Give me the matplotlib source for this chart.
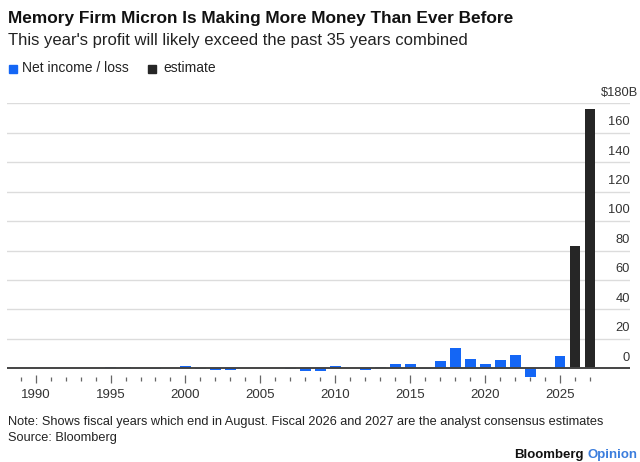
import matplotlib
matplotlib.use("Agg")
import matplotlib.pyplot as plt
from matplotlib.transforms import blended_transform_factory
from matplotlib.patches import Rectangle

plt.rcParams['font.family'] = ['Liberation Sans', 'DejaVu Sans']

years = list(range(1989, 2026))
net_income = [0.07, 0.005, 0.005, 0.006, 0.1, 0.4, 0.84, 0.59, 0.33, -0.23, -0.07,
              1.5, -0.62, -0.91, -1.27, 0.16, 0.19, 0.43, -0.32, -1.6, -1.8,
              1.85, 0.17, -1.0, 1.2, 3.0, 2.9, -0.28, 5.1, 14.1, 6.3,
              2.7, 5.9, 8.7, -5.8, 0.78, 8.5]
est_years = [2026, 2027]
estimates = [83, 176]
yticks = [0, 20, 40, 60, 80, 100, 120, 140, 160, 180]
ytick_labels = ['0', '20', '40', '60', '80', '100', '120', '140', '160', '$180B']
major_years = [1990, 1995, 2000, 2005, 2010, 2015, 2020, 2025]

BLUE = '#1466f5'
DARK = '#262626'

W, H = 640, 462
fig = plt.figure(figsize=(6.4, 4.62), dpi=100)
fig.patch.set_facecolor('white')

def fx(px):
    return px / W

def fy(py):
    return 1 - py / H

ax_left, ax_right, ax_top, ax_bottom = 7, 630, 103.3, 379
ax = fig.add_axes([fx(ax_left), fy(ax_bottom), fx(ax_right - ax_left), (ax_bottom - ax_top) / H])
ax.set_xlim(1988.09, 2029.67)
ax.set_ylim(-7.27, 180)

ax.bar(years, net_income, width=0.73, color=BLUE, zorder=3)
ax.bar(est_years, estimates, width=0.73, color=DARK, zorder=3)

for s in ax.spines.values():
    s.set_visible(False)

for v in yticks[1:]:
    ax.axhline(v, color='#dcdcdc', lw=1.0, zorder=1)
ax.axhline(0, color='#444444', lw=1.4, zorder=4)

trans = blended_transform_factory(ax.transAxes, ax.transData)
for v, lab in zip(yticks, ytick_labels):
    xpos = 1.0 + (8 / 623 if lab.startswith('$') else 0)
    ax.text(xpos, v + 7.2, lab, transform=trans, ha='right', va='center',
            fontsize=9.3, color='#333333', clip_on=False)
ax.set_yticks([])

ax.set_xticks(major_years)
ax.set_xticklabels([str(y) for y in major_years], fontsize=9.5, color='#333333')
ax.set_xticks([y for y in range(1989, 2028) if y not in major_years], minor=True)
ax.tick_params(axis='x', which='major', direction='inout', length=6, width=0.9,
               color='#666666', pad=4)
ax.tick_params(axis='x', which='minor', direction='inout', length=3, width=0.9,
               color='#666666')

fig.text(fx(8), fy(18), 'Memory Firm Micron Is Making More Money Than Ever Before',
         fontsize=12.4, fontweight='bold', ha='left', va='center', color='#111111')
fig.text(fx(8), fy(40), "This year's profit will likely exceed the past 35 years combined",
         fontsize=12, ha='left', va='center', color='#222222')

fig.patches.append(Rectangle((fx(9), fy(73)), fx(8), 8 / H, transform=fig.transFigure,
                             color=BLUE, figure=fig))
fig.text(fx(22), fy(68.5), 'Net income / loss', fontsize=10, ha='left', va='center', color='#222222')
fig.patches.append(Rectangle((fx(148), fy(73)), fx(8), 8 / H, transform=fig.transFigure,
                             color=DARK, figure=fig))
fig.text(fx(163), fy(68.5), 'estimate', fontsize=10, ha='left', va='center', color='#222222')

fig.text(fx(8), fy(422), 'Note: Shows fiscal years which end in August. Fiscal 2026 and 2027 are the analyst consensus estimates',
         fontsize=9.2, ha='left', va='center', color='#222222')
fig.text(fx(8), fy(438.5), 'Source: Bloomberg', fontsize=9.2, ha='left', va='center', color='#222222')

t_op = fig.text(fx(637), fy(455), 'Opinion', fontsize=9.5, fontweight='bold', ha='right',
                va='center', color='#3b7ddd')
fig.canvas.draw()
bb = t_op.get_window_extent()
fig.text(bb.x0 / W - fx(3), fy(455), 'Bloomberg', fontsize=9.5, fontweight='bold', ha='right',
         va='center', color='#111111')

fig.savefig('out.png', dpi=100, facecolor='white')
